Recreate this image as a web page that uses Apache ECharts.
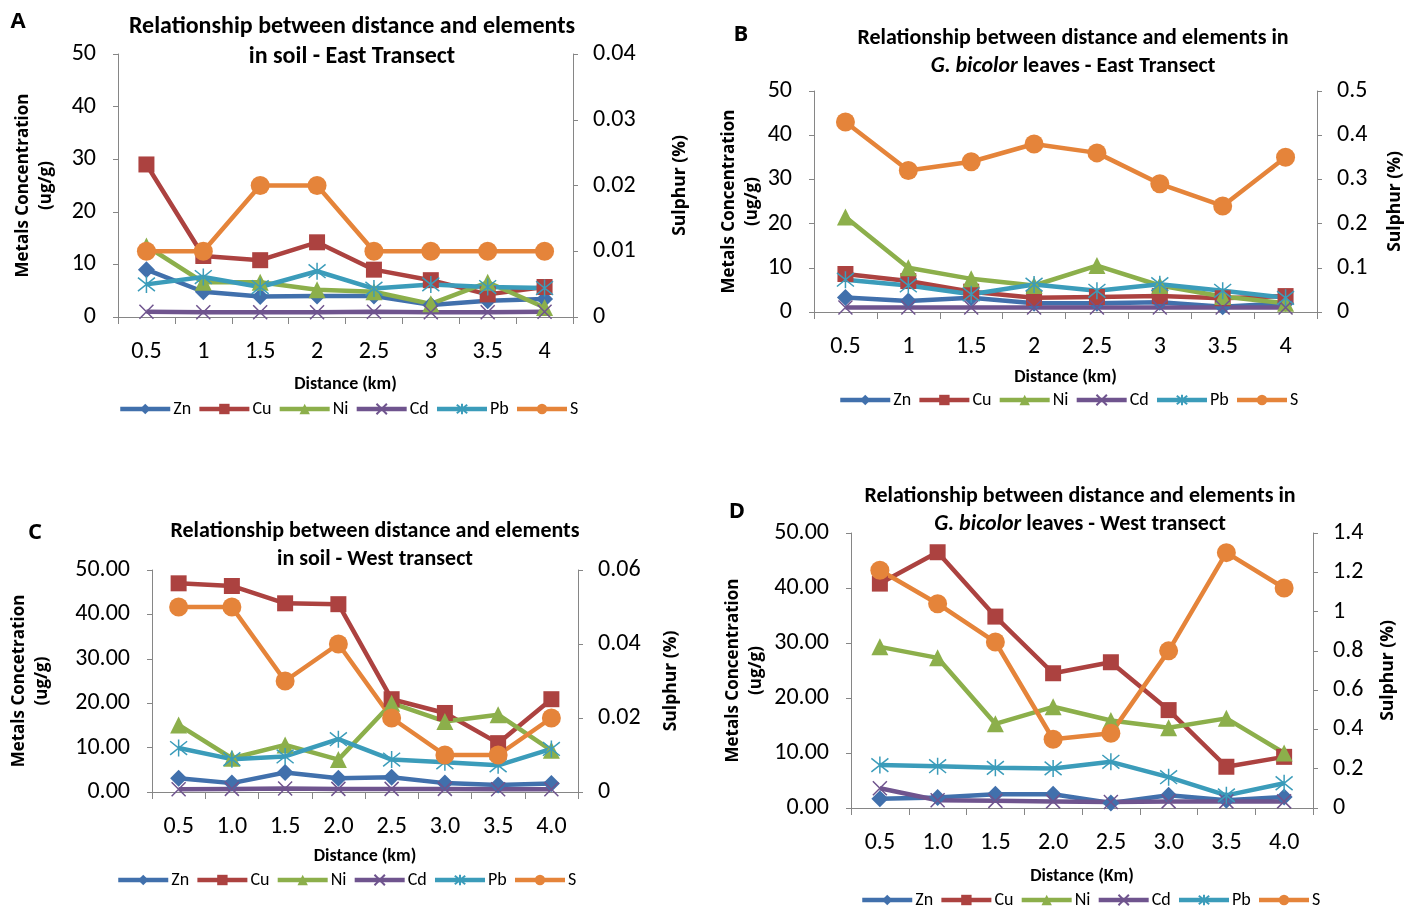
<!DOCTYPE html>
<html>
<head>
<meta charset="utf-8">
<script src="https://cdn.jsdelivr.net/npm/echarts@6/dist/echarts.min.js"></script>
<style>
html,body{margin:0;padding:0;background:#fff;}
#c{width:1405px;height:907px;}
</style>
</head>
<body>
<div id="c"></div>
<script>
// ---------- data ----------
const catsEast = ['0.5','1','1.5','2','2.5','3','3.5','4'];
const catsWest = ['0.5','1.0','1.5','2.0','2.5','3.0','3.5','4.0'];
const elements = ['Zn','Cu','Ni','Cd','Pb','S'];

// A: soil - East transect
const aZn = [9.0, 4.8, 3.9, 4.0, 4.0, 2.3, 3.1, 3.4];
const aCu = [29.0, 11.6, 10.8, 14.2, 9.0, 7.0, 4.3, 5.7];
const aNi = [13.5, 6.6, 6.6, 5.2, 4.8, 2.5, 6.6, 1.8];
const aCd = [1.0, 0.9, 0.9, 0.9, 1.0, 0.9, 0.9, 1.0];
const aPb = [6.2, 7.6, 5.7, 8.7, 5.4, 6.2, 5.7, 5.5];
const aS  = [0.01, 0.01, 0.02, 0.02, 0.01, 0.01, 0.01, 0.01];

// B: G. bicolor leaves - East transect
const bZn = [3.3, 2.5, 3.2, 2.0, 2.0, 2.2, 1.2, 2.0];
const bCu = [8.6, 7.0, 4.6, 3.2, 3.4, 3.6, 3.1, 3.6];
const bNi = [21.5, 10.0, 7.5, 6.0, 10.5, 6.0, 3.5, 2.0];
const bCd = [1.0, 1.0, 1.0, 1.0, 1.0, 1.0, 1.0, 1.0];
const bPb = [7.3, 6.0, 4.0, 6.2, 4.8, 6.3, 4.8, 3.2];
const bS  = [0.43, 0.32, 0.34, 0.38, 0.36, 0.29, 0.24, 0.35];

// C: soil - West transect
const cZn = [3.1, 2.0, 4.4, 3.1, 3.3, 2.0, 1.6, 1.9];
const cCu = [47.0, 46.4, 42.5, 42.3, 20.9, 17.8, 11.0, 20.9];
const cNi = [15.1, 7.6, 10.6, 7.3, 20.0, 15.9, 17.4, 9.4];
const cCd = [0.6, 0.7, 0.8, 0.7, 0.7, 0.7, 0.6, 0.6];
const cPb = [9.9, 7.4, 8.0, 11.9, 7.3, 6.7, 6.0, 9.7];
const cS  = [0.05, 0.05, 0.03, 0.04, 0.02, 0.01, 0.01, 0.02];

// D: G. bicolor leaves - West transect
const dZn = [1.7, 1.9, 2.5, 2.5, 0.9, 2.3, 1.4, 2.0];
const dCu = [40.8, 46.5, 34.8, 24.5, 26.5, 17.8, 7.5, 9.3];
const dNi = [29.3, 27.3, 15.3, 18.4, 15.9, 14.6, 16.3, 10.0];
const dCd = [3.6, 1.4, 1.3, 1.2, 1.1, 1.2, 1.2, 1.2];
const dPb = [7.8, 7.6, 7.3, 7.2, 8.4, 5.6, 2.3, 4.5];
const dS  = [1.21, 1.04, 0.845, 0.35, 0.38, 0.80, 1.30, 1.12];

// ---------- styling ----------
const FONT = "Carlito, 'Liberation Sans Narrow', 'Liberation Sans', sans-serif";
const NAMEFONT = "'Open Sans', 'DejaVu Sans', sans-serif";
const AXC = '#868686';
const COLORS = {Zn:'#4170AC', Cu:'#AC4240', Ni:'#8CAF4B', Cd:'#6F548E', Pb:'#3B9CBA', S:'#E5843A'};
const SYM = {
  Zn:['diamond',17,false],
  Cu:['rect',16,false],
  Ni:['triangle',17,false],
  Cd:['path://M0,0L10,10M10,0L0,10',14,true],
  Pb:['path://M1,1L9,9M9,1L1,9M5,0L5,10',17,true],
  S:['circle',19,false]
};

const panels = [
  {key:'A', cats:catsEast, data:[aZn,aCu,aNi,aCd,aPb,aS],
   grid:{left:118, top:54, width:455, height:263},
   yMax:50, yInt:10, yDec:0, sMax:0.04, sInt:0.01,
   yName:'Metals Concentration\n(ug/g)', yGap:60, sGap:98, xName:'Distance (km)', xGap:58,
   title:['Relationship between distance and elements','in soil - East Transect'], tx:352, ty:[27,57], tsize:24,
   letter:[18,22], legend:{left:118, top:400}},
  {key:'B', cats:catsEast, data:[bZn,bCu,bNi,bCd,bPb,bS],
   grid:{left:814, top:91, width:504, height:221},
   yMax:50, yInt:10, yDec:0, sMax:0.5, sInt:0.1,
   yName:'Metals Concentration\n(ug/g)', yGap:49, sGap:69, xName:'Distance (km)', xGap:56,
   title:['Relationship between distance and elements in','{i|G. bicolor} leaves - East Transect'], tx:1073, ty:[38,66], tsize:22,
   letter:[741,35], legend:{left:838, top:391}},
  {key:'C', cats:catsWest, data:[cZn,cCu,cNi,cCd,cPb,cS],
   grid:{left:152, top:570, width:426, height:222},
   yMax:50, yInt:10, yDec:2, sMax:0.06, sInt:0.02,
   yName:'Metals Concetration\n(ug/g)', yGap:98, sGap:84, xName:'Distance (km)', xGap:55,
   title:['Relationship between distance and elements','in soil - West transect'], tx:375, ty:[531,559], tsize:22,
   letter:[35,533], legend:{left:116, top:871}},
  {key:'D', cats:catsWest, data:[dZn,dCu,dNi,dCd,dPb,dS],
   grid:{left:851, top:533, width:462, height:275},
   yMax:50, yInt:10, yDec:2, sMax:1.4, sInt:0.2,
   yName:'Metals Concentration\n(ug/g)', yGap:83, sGap:66, xName:'Distance (Km)', xGap:59,
   title:['Relationship between distance and elements in','{i|G. bicolor} leaves - West transect'], tx:1080, ty:[496,524], tsize:22,
   letter:[737,512], legend:{left:860, top:891}}
];

const option = {
  animation:false,
  backgroundColor:'#fff',
  grid:[], xAxis:[], yAxis:[], series:[], legend:[], graphic:[]
};

panels.forEach((p, pi) => {
  option.grid.push(Object.assign({containLabel:false}, p.grid));
  option.xAxis.push({
    type:'category', gridIndex:pi, data:p.cats, boundaryGap:true,
    axisLine:{show:true, onZero:false, lineStyle:{color:AXC, width:1}},
    axisTick:{show:true, length:7, inside:false, lineStyle:{color:AXC}},
    axisLabel:{color:'#000', fontFamily:FONT, fontSize:24, margin:23},
    splitLine:{show:false},
    name:p.xName, nameLocation:'middle', nameGap:p.xGap,
    nameTextStyle:{color:'#000', fontFamily:FONT, fontWeight:'bold', fontSize:18}
  });
  option.yAxis.push({
    type:'value', gridIndex:pi, position:'left', min:0, max:p.yMax, interval:p.yInt,
    axisLine:{show:true, lineStyle:{color:AXC, width:1}},
    axisTick:{show:true, length:5, lineStyle:{color:AXC}},
    axisLabel:{color:'#000', fontFamily:FONT, fontSize:24, margin:22,
      formatter:(v)=>v.toFixed(p.yDec)},
    splitLine:{show:false},
    name:p.yName, nameLocation:'middle', nameRotate:90, nameGap:p.yGap,
    nameTextStyle:{color:'#000', fontFamily:NAMEFONT, fontWeight:'bold', fontSize:17, lineHeight:23}
  });
  option.yAxis.push({
    type:'value', gridIndex:pi, position:'right', min:0, max:p.sMax, interval:p.sInt,
    axisLine:{show:true, lineStyle:{color:AXC, width:1}},
    axisTick:{show:true, length:5, lineStyle:{color:AXC}},
    axisLabel:{color:'#000', fontFamily:FONT, fontSize:24, margin:20,
      formatter:(v)=>String(parseFloat(v.toFixed(4)))},
    splitLine:{show:false},
    name:'Sulphur (%)', nameLocation:'middle', nameRotate:90, nameGap:p.sGap,
    nameTextStyle:{color:'#000', fontFamily:NAMEFONT, fontWeight:'bold', fontSize:17.5}
  });
  elements.forEach((el, ei) => {
    const s = SYM[el];
    const isS = el === 'S';
    option.series.push({
      type:'line', name:el, xAxisIndex:pi, yAxisIndex: isS ? pi*2+1 : pi*2,
      data:p.data[ei], symbol:s[0], symbolSize:s[1], showSymbol:true,
      lineStyle:{color:COLORS[el], width:4.5},
      itemStyle: s[2] ? {color:COLORS[el], borderColor:COLORS[el], borderWidth:1.5}
                      : {color:COLORS[el], borderWidth:0},
      emphasis:{disabled:true}, silent:true
    });
  });
  option.legend.push({
    left:p.legend.left, top:p.legend.top, orient:'horizontal', padding:0,
    data:elements, itemWidth:50, itemHeight:13, itemGap:6,
    lineStyle:{width:4.5},
    textStyle:{color:'#000', fontFamily:FONT, fontSize:18, padding:[0,0,0,-2]},
    selectedMode:false
  });
  // titles
  p.title.forEach((t, li) => {
    option.graphic.push({
      type:'text', x:p.tx, y:p.ty[li], silent:true,
      style:{text:t, fill:'#000', align:'center', verticalAlign:'middle',
        font:"bold " + p.tsize + "px " + FONT,
        rich:{i:{fontStyle:'italic', fontWeight:'bold', fontSize:p.tsize, fontFamily:FONT, fill:'#000'}}}
    });
  });
  option.graphic.push({
    type:'text', x:p.letter[0], y:p.letter[1], silent:true,
    style:{text:p.key, fill:'#000', align:'center', verticalAlign:'middle',
      font:"bold 22px " + NAMEFONT}
  });
});

const chart = echarts.init(document.getElementById('c'), null, {renderer:'canvas'});
chart.setOption(option);
</script>
</body>
</html>
